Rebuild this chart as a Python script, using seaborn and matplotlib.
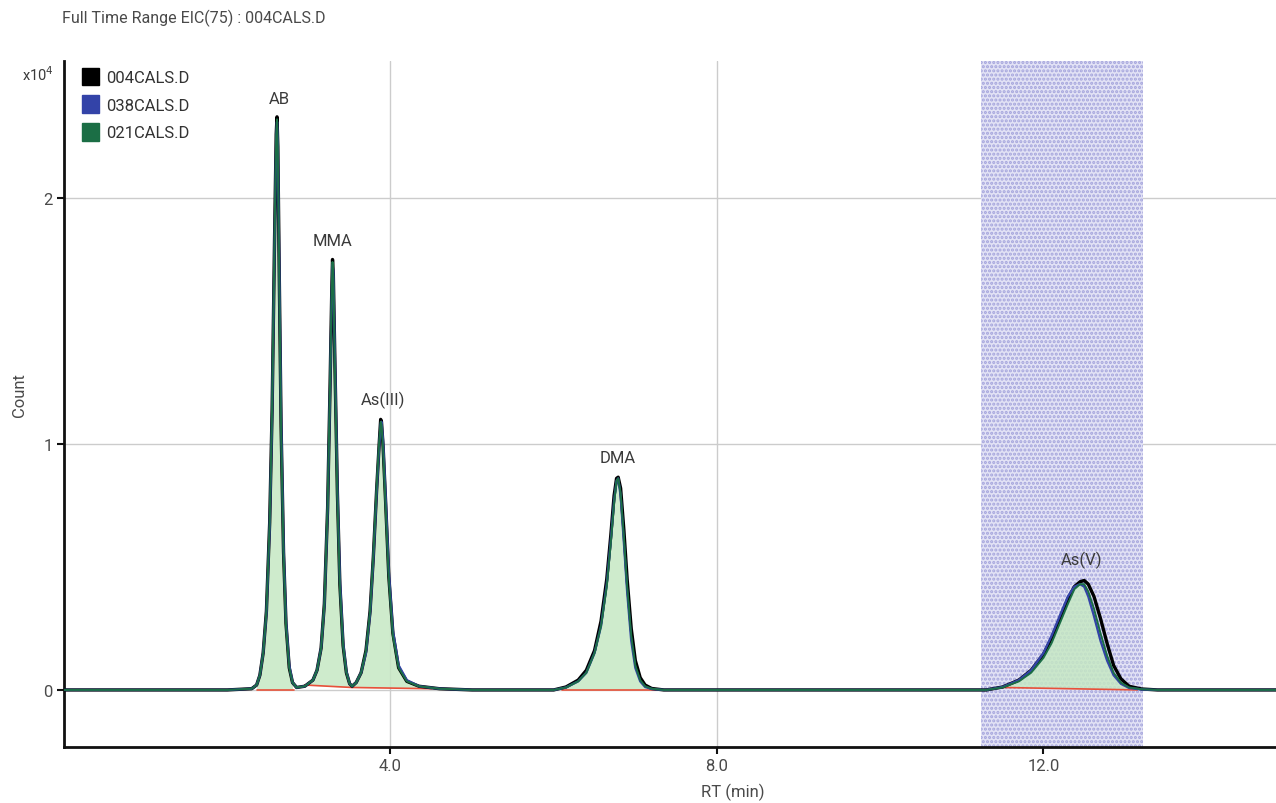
import numpy as np
import pandas as pd
import matplotlib
matplotlib.use("Agg")
import matplotlib.pyplot as plt
from matplotlib.patches import Patch
import seaborn as sns

# ---------------- data ----------------
title = "Full Time Range EIC(75) : 004CALS.D"
series_names = ["004CALS.D", "038CALS.D", "021CALS.D"]
series_colors = ["#000000", "#3343a8", "#1b6e45"]

rt = [0.0, 1.0, 2.0, 2.30,
      2.36, 2.40, 2.44, 2.48, 2.52, 2.55, 2.58, 2.60, 2.61, 2.62, 2.64, 2.66, 2.69, 2.72, 2.76, 2.80, 2.85,
      2.95, 3.05, 3.10, 3.15, 3.19, 3.23, 3.26, 3.28, 3.29, 3.30, 3.32, 3.35, 3.38, 3.42, 3.46, 3.50, 3.53,
      3.58, 3.64, 3.70, 3.75, 3.79, 3.83, 3.86, 3.88, 3.89, 3.91, 3.94, 3.98, 4.03, 4.10, 4.20, 4.35, 4.60,
      5.0, 5.7, 6.0,
      6.15, 6.30, 6.40, 6.50, 6.58, 6.65, 6.70, 6.74, 6.77, 6.79, 6.82, 6.86, 6.90, 6.95, 7.00, 7.06, 7.12, 7.20, 7.35,
      8.0, 9.0, 10.0, 11.0, 11.3,
      11.50, 11.70, 11.85, 12.00, 12.10, 12.20, 12.30, 12.38, 12.45, 12.50, 12.55, 12.62, 12.70, 12.78, 12.86, 12.95, 13.05, 13.20, 13.40,
      14.0, 14.85]

counts_004 = [0.0, 0.0, 0.0, 0.005,
              0.02, 0.06, 0.15, 0.32, 0.68, 1.14, 1.84, 2.26, 2.33, 2.21, 1.62, 1.07, 0.56, 0.27, 0.09, 0.03, 0.01,
              0.015, 0.04, 0.08, 0.17, 0.35, 0.74, 1.24, 1.61, 1.75, 1.69, 1.32, 0.80, 0.43, 0.18, 0.07, 0.025, 0.015,
              0.03, 0.07, 0.16, 0.32, 0.54, 0.81, 0.99, 1.10, 1.09, 0.99, 0.77, 0.46, 0.23, 0.09, 0.035, 0.015, 0.005,
              0.0, 0.0, 0.0,
              0.012, 0.04, 0.08, 0.16, 0.28, 0.45, 0.63, 0.79, 0.86, 0.865, 0.82, 0.65, 0.45, 0.25, 0.12, 0.05, 0.02, 0.006, 0.0,
              0.0, 0.0, 0.0, 0.0, 0.0,
              0.012, 0.04, 0.08, 0.145, 0.21, 0.29, 0.37, 0.42, 0.44, 0.445, 0.43, 0.38, 0.29, 0.19, 0.10, 0.045, 0.015, 0.004, 0.0,
              0.0, 0.0]

counts_038 = [0.0, 0.0, 0.0, 0.005,
              0.02, 0.06, 0.15, 0.31, 0.66, 1.12, 1.82, 2.24, 2.31, 2.22, 1.65, 1.10, 0.58, 0.28, 0.10, 0.03, 0.01,
              0.015, 0.04, 0.08, 0.17, 0.34, 0.73, 1.22, 1.60, 1.73, 1.70, 1.34, 0.82, 0.45, 0.19, 0.075, 0.025, 0.015,
              0.03, 0.07, 0.15, 0.31, 0.53, 0.80, 0.98, 1.08, 1.09, 1.01, 0.79, 0.48, 0.24, 0.10, 0.04, 0.015, 0.005,
              0.0, 0.0, 0.0,
              0.01, 0.035, 0.07, 0.15, 0.26, 0.43, 0.61, 0.77, 0.85, 0.86, 0.79, 0.60, 0.40, 0.20, 0.09, 0.035, 0.012, 0.004, 0.0,
              0.0, 0.0, 0.0, 0.0, 0.0,
              0.012, 0.04, 0.08, 0.15, 0.22, 0.30, 0.38, 0.42, 0.43, 0.42, 0.38, 0.30, 0.20, 0.12, 0.06, 0.025, 0.008, 0.002, 0.0,
              0.0, 0.0]

counts_021 = [0.0, 0.0, 0.0, 0.005,
              0.02, 0.06, 0.15, 0.32, 0.68, 1.15, 1.85, 2.25, 2.32, 2.20, 1.60, 1.05, 0.55, 0.26, 0.09, 0.03, 0.01,
              0.015, 0.04, 0.08, 0.17, 0.35, 0.75, 1.25, 1.62, 1.74, 1.68, 1.30, 0.78, 0.42, 0.18, 0.07, 0.025, 0.015,
              0.03, 0.07, 0.16, 0.32, 0.55, 0.82, 1.00, 1.09, 1.08, 0.98, 0.75, 0.45, 0.22, 0.09, 0.035, 0.015, 0.005,
              0.0, 0.0, 0.0,
              0.01, 0.035, 0.07, 0.15, 0.26, 0.42, 0.60, 0.76, 0.85, 0.86, 0.80, 0.62, 0.42, 0.22, 0.10, 0.04, 0.015, 0.005, 0.0,
              0.0, 0.0, 0.0, 0.0, 0.0,
              0.01, 0.035, 0.07, 0.13, 0.19, 0.27, 0.35, 0.41, 0.43, 0.43, 0.40, 0.33, 0.23, 0.14, 0.07, 0.03, 0.01, 0.003, 0.0,
              0.0, 0.0]

# integration baselines (red) per peak
base_start_rt = [2.36, 2.95, 3.53, 6.10, 11.50]
base_end_rt = [2.82, 3.53, 4.50, 7.25, 13.15]
base_start_val = [0.0, 0.02, 0.01, 0.0, 0.01]
base_end_val = [0.0, 0.01, 0.005, 0.0, 0.0]

peak_names = ["AB", "MMA", "As(III)", "DMA", "As(V)"]
peak_rt = [2.64, 3.29, 3.91, 6.78, 12.47]
peak_height = [2.32, 1.74, 1.09, 0.86, 0.44]

highlight_range = [11.23, 13.22]

x_ticks = [4.0, 8.0, 12.0]
x_ticklabels = ["4.0", "8.0", "12.0"]
y_ticks = [0, 1, 2]
y_ticklabels = ["0", "1", "2"]

# ---------------- plot ----------------
sns.set_theme(style="white")
plt.rcParams["font.family"] = ["Roboto", "DejaVu Sans"]
plt.rcParams["hatch.linewidth"] = 1.5

fig = plt.figure(figsize=(12.76, 8.04), dpi=100)
ax = fig.add_axes([64 / 1276, 56 / 804, 1212 / 1276, 686 / 804])

ax.set_xlim(0, 14.85)
ax.set_ylim(-0.232, 2.557)

# grid
for xv in x_ticks:
    ax.axvline(xv, color="#cccccc", lw=1.0, zorder=0)
for yv in y_ticks:
    ax.axhline(yv, color="#cccccc", lw=1.0, zorder=0)

# highlighted window
ax.axvspan(highlight_range[0], highlight_range[1], facecolor="#e2e2f5",
           edgecolor="#a4a4dc", hatch="....", lw=0, zorder=0.5)

rt_arr = np.array(rt)
green = np.array(counts_021)

# fills under peaks
for s, e, sv, ev in zip(base_start_rt, base_end_rt, base_start_val, base_end_val):
    m = (rt_arr >= s) & (rt_arr <= e)
    xs = rt_arr[m]
    base = np.interp(xs, [s, e], [sv, ev])
    ax.fill_between(xs, base, np.maximum(green[m], base), color="#c6e8c4",
                    alpha=0.85, lw=0, zorder=1)

df = pd.DataFrame({
    "RT": rt * 3,
    "Count": counts_004 + counts_038 + counts_021,
    "File": [series_names[0]] * len(rt) + [series_names[1]] * len(rt) + [series_names[2]] * len(rt),
})
widths = [2.4, 1.7, 1.4]
for name, col, lw in zip(series_names, series_colors, widths):
    sns.lineplot(data=df[df["File"] == name], x="RT", y="Count", color=col,
                 lw=lw, ax=ax, legend=False, zorder=3, estimator=None, sort=False)

# red integration baselines
for s, e, sv, ev in zip(base_start_rt, base_end_rt, base_start_val, base_end_val):
    ax.plot([s, e], [sv, ev], color="#e8503a", lw=1.2, zorder=2.5)

# peak labels
for name, x, h in zip(peak_names, peak_rt, peak_height):
    ax.text(x, h + 0.055, name, ha="center", va="bottom", fontsize=12,
            color="#3a3a3a", zorder=4)

# axes styling
for sp in ["top", "right"]:
    ax.spines[sp].set_visible(False)
for sp in ["left", "bottom"]:
    ax.spines[sp].set_color("#111111")
    ax.spines[sp].set_linewidth(2.0)

ax.set_xticks(x_ticks)
ax.set_xticklabels(x_ticklabels)
ax.set_yticks(y_ticks)
ax.set_yticklabels(y_ticklabels)
ax.tick_params(axis="both", direction="out", length=5, width=1.5, color="#111111",
               labelsize=12, labelcolor="#4a4a4a", pad=3)
ax.tick_params(axis="x", bottom=True)
ax.tick_params(axis="y", left=True)
ax.set_xlabel("")
ax.set_ylabel("")

fig.text(733 / 1276, 1 - 792 / 804, "RT (min)", ha="center", va="center",
         fontsize=12, color="#4a4a4a")
fig.text(20 / 1276, 1 - 395 / 804, "Count", rotation=90, ha="center", va="center",
         fontsize=12, color="#4a4a4a")
fig.text(22 / 1276, 1 - 75 / 804, "x10$^4$", ha="left", va="center",
         fontsize=10.5, color="#3a3a3a")
fig.text(62 / 1276, 1 - 18 / 804, title, ha="left", va="center",
         fontsize=11.5, color="#4a4a4a")

handles = [Patch(facecolor=c, edgecolor=c) for c in series_colors]
leg = ax.legend(handles, series_names, loc="upper left", bbox_to_anchor=(0.009, 1.0),
                frameon=False, fontsize=12, handlelength=1.05, handleheight=1.25,
                labelspacing=0.6, handletextpad=0.45, borderaxespad=0)
for t in leg.get_texts():
    t.set_color("#333333")

fig.savefig("out.png", dpi=100)
